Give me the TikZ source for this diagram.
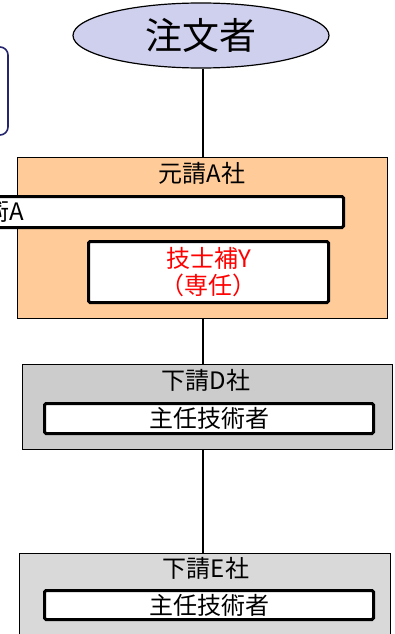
\documentclass[tikz,border=0pt]{standalone}
\usepackage{fontspec}
\setmainfont{Noto Sans CJK JP}
\usetikzlibrary{shapes.geometric}
\definecolor{clientblue}{HTML}{CFCFEE}
\definecolor{motoorange}{HTML}{FFCC99}
\definecolor{shitagray}{HTML}{CCCCCC}
\definecolor{shitagrayb}{HTML}{D9D9D9}
\definecolor{navyline}{HTML}{25256F}
\tikzset{
  company/.style={draw=black,line width=1.2pt,anchor=north west,inner sep=0pt},
  engineer/.style={draw=black,fill=white,line width=3pt,rounded corners=1.5pt,
    inner sep=0pt,anchor=north west},
  boxtitle/.style={inner sep=0pt,font=\fontsize{24}{27}\selectfont},
}

\begin{document}
\begin{tikzpicture}[x=1pt,y=-1pt]
  \useasboundingbox (0,0) rectangle (395,634);
  \clip (0,0) rectangle (395,634);
  % left box, mostly cut off
  \draw[navyline,line width=1.6pt,rounded corners=8pt] (-30,47) rectangle (8,135);
  \node[ellipse,draw=black,line width=1.2pt,fill=clientblue,minimum width=256pt,
    minimum height=65pt,inner sep=0pt,font=\fontsize{37}{40}\selectfont] (client) at (201,35.5) {注文者};
  % companies
  \node[company,fill=motoorange,minimum width=370pt,minimum height=161pt] (motoA) at (17,157) {};
  \node[company,fill=shitagray,minimum width=370pt,minimum height=85pt] (shitaD) at (22,364) {};
  \node[company,fill=shitagrayb,minimum width=371pt,minimum height=120pt] (shitaE) at (19,553) {};
  \node[boxtitle] (motoAname) at (202,173) {元請A社};
  \node[boxtitle] (shitaDname) at (206,380) {下請D社};
  \node[boxtitle] (shitaEname) at (206,568) {下請E社};
  % engineers
  \node[engineer,minimum width=372pt,minimum height=31pt] (kanriA) at (-30,195) {};
  \node[boxtitle,anchor=east] (kanriAname) at (24,211) {術A};
  \node[engineer,minimum width=240pt,minimum height=61pt] (hojoY) at (87,240) {};
  \node[boxtitle,text=red,align=center] (hojoYname) at (hojoY.center) {技士補Y\\（専任）};
  \node[engineer,minimum width=329pt,minimum height=30pt] (shuninD) at (43,402) {};
  \node[boxtitle] (shuninDname) at (shuninD.center) {主任技術者};
  \node[engineer,minimum width=329pt,minimum height=29pt] (shuninE) at (43,589) {};
  \node[boxtitle] (shuninEname) at (shuninE.center) {主任技術者};
  % connectors
  \coordinate (trunk) at ([xshift=2pt]client.south);
  \draw[line width=1.2pt] (trunk) -- (trunk |- motoA.north);
  \draw[line width=1.2pt] (trunk |- motoA.south) -- (trunk |- shitaD.north);
  \draw[line width=1.2pt] (trunk |- shitaD.south) -- (trunk |- shitaE.north);
\end{tikzpicture}
\end{document}
